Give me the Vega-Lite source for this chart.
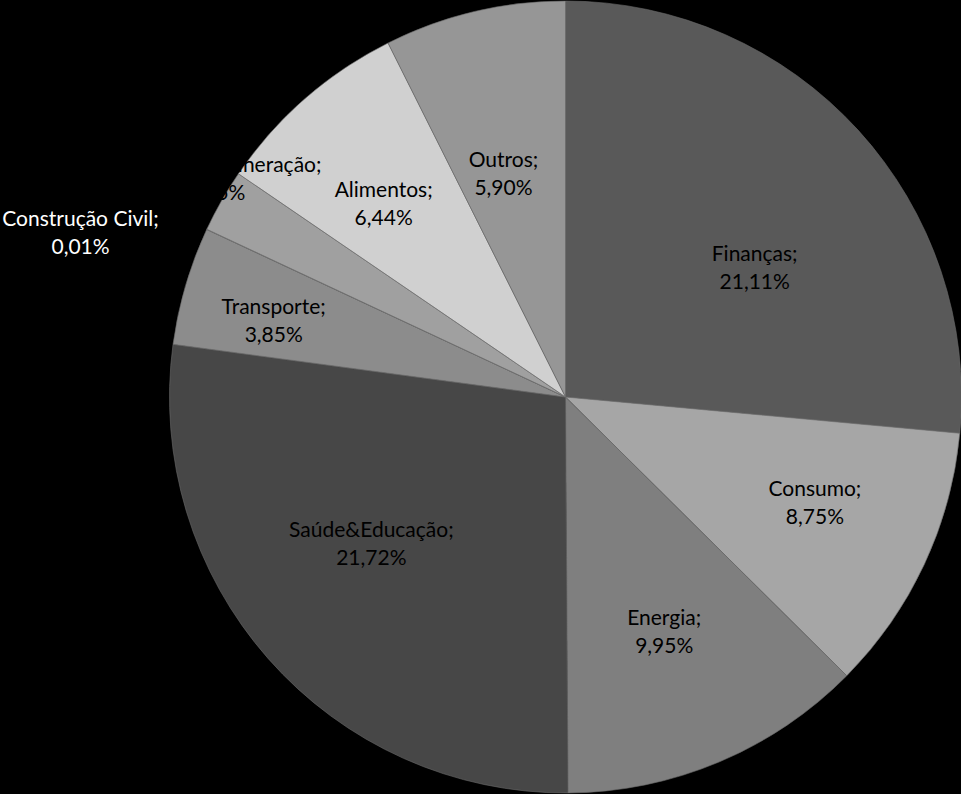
{
  "$schema": "https://vega.github.io/schema/vega-lite/v6.json",
  "autosize": {"type": "none"},
  "width": 791,
  "height": 794,
  "padding": {"left": 170, "right": 0, "top": 0, "bottom": 0},
  "background": "#000000",
  "view": {"stroke": null},
  "data": {
    "values": [
      {"idx": 1, "setor": "Finanças", "valor": 21.11, "label": "Finanças;\n21,11%"},
      {"idx": 2, "setor": "Consumo", "valor": 8.75, "label": "Consumo;\n8,75%"},
      {"idx": 3, "setor": "Energia", "valor": 9.95, "label": "Energia;\n9,95%"},
      {"idx": 4, "setor": "Saúde&Educação", "valor": 21.72, "label": "Saúde&Educação;\n21,72%"},
      {"idx": 5, "setor": "Transporte", "valor": 3.85, "label": "Transporte;\n3,85%"},
      {"idx": 6, "setor": "Construção Civil", "valor": 0.01, "label": "Construção Civil;\n0,01%"},
      {"idx": 7, "setor": "Siderurgia&Mineração", "valor": 2.05, "label": "Siderurgia&Mineração;\n2,05%"},
      {"idx": 8, "setor": "Alimentos", "valor": 6.44, "label": "Alimentos;\n6,44%"},
      {"idx": 9, "setor": "Outros", "valor": 5.90, "label": "Outros;\n5,90%"}
    ]
  },
  "encoding": {
    "theta": {"field": "valor", "type": "quantitative", "stack": true},
    "order": {"field": "idx", "type": "quantitative"},
    "text": {"field": "label"}
  },
  "layer": [
    {
      "mark": {"type": "arc", "radius": 396, "stroke": "#6a6a6a", "strokeWidth": 0.6},
      "encoding": {
        "text": null,
        "color": {
          "field": "setor",
          "type": "nominal",
          "legend": null,
          "scale": {
            "domain": ["Finanças", "Consumo", "Energia", "Saúde&Educação", "Transporte", "Construção Civil", "Siderurgia&Mineração", "Alimentos", "Outros"],
            "range": ["#595959", "#a6a6a6", "#7f7f7f", "#474747", "#8c8c8c", "#bfbfbf", "#a0a0a0", "#d0d0d0", "#969696"]
          }
        }
      }
    },
    {
      "mark": {"type": "text", "radius": 252, "dx": 3, "dy": 28, "font": "Lato", "fontSize": 21, "lineBreak": "\n", "lineHeight": 28, "color": "#000000"},
      "encoding": {"opacity": {"condition": {"test": "datum.setor === 'Finanças'", "value": 1}, "value": 0}}
    },
    {
      "mark": {"type": "text", "radius": 252, "dx": 21, "dy": -13, "font": "Lato", "fontSize": 21, "lineBreak": "\n", "lineHeight": 28, "color": "#000000"},
      "encoding": {"opacity": {"condition": {"test": "datum.setor === 'Consumo'", "value": 1}, "value": 0}}
    },
    {
      "mark": {"type": "text", "radius": 252, "dx": 1, "dy": -10, "font": "Lato", "fontSize": 21, "lineBreak": "\n", "lineHeight": 28, "color": "#000000"},
      "encoding": {"opacity": {"condition": {"test": "datum.setor === 'Energia'", "value": 1}, "value": 0}}
    },
    {
      "mark": {"type": "text", "radius": 252, "dx": -5, "dy": -33, "font": "Lato", "fontSize": 21, "lineBreak": "\n", "lineHeight": 28, "color": "#000000"},
      "encoding": {"opacity": {"condition": {"test": "datum.setor === 'Saúde&Educação'", "value": 1}, "value": 0}}
    },
    {
      "mark": {"type": "text", "radius": 302, "dx": -2, "dy": -4, "font": "Lato", "fontSize": 21, "lineBreak": "\n", "lineHeight": 28, "color": "#000000"},
      "encoding": {"opacity": {"condition": {"test": "datum.setor === 'Transporte'", "value": 1}, "value": 0}}
    },
    {
      "mark": {"type": "text", "radius": 500, "dx": -32, "dy": 35, "font": "Lato", "fontSize": 21, "lineBreak": "\n", "lineHeight": 28, "color": "#ffffff"},
      "encoding": {"opacity": {"condition": {"test": "datum.setor === 'Construção Civil'", "value": 1}, "value": 0}}
    },
    {
      "mark": {"type": "text", "radius": 372, "dx": -26, "dy": -47, "font": "Lato", "fontSize": 21, "lineBreak": "\n", "lineHeight": 28, "color": "#000000"},
      "encoding": {"opacity": {"condition": {"test": "datum.setor === 'Siderurgia&Mineração'", "value": 1}, "value": 0}}
    },
    {
      "mark": {"type": "text", "radius": 252, "dx": -16, "dy": -16, "font": "Lato", "fontSize": 21, "lineBreak": "\n", "lineHeight": 28, "color": "#000000"},
      "encoding": {"opacity": {"condition": {"test": "datum.setor === 'Alimentos'", "value": 1}, "value": 0}}
    },
    {
      "mark": {"type": "text", "radius": 252, "dx": -4, "dy": 9, "font": "Lato", "fontSize": 21, "lineBreak": "\n", "lineHeight": 28, "color": "#000000"},
      "encoding": {"opacity": {"condition": {"test": "datum.setor === 'Outros'", "value": 1}, "value": 0}}
    }
  ]
}
